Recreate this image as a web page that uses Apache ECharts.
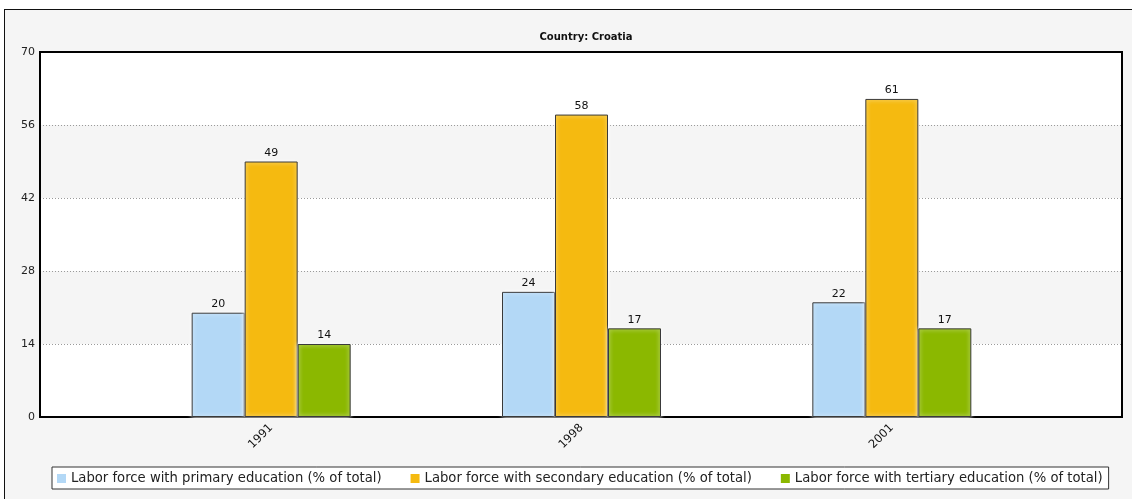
<!DOCTYPE html>
<html>
<head>
<meta charset="utf-8">
<script src="https://cdn.jsdelivr.net/npm/echarts@6/dist/echarts.min.js"></script>
<style>
  html, body { margin: 0; padding: 0; background: #fff; overflow: hidden; }
  #frame { position: absolute; left: 4px; top: 9px; width: 1140px; height: 500px;
           border-left: 1px solid #111; border-top: 1px solid #111; background: #f5f5f5; }
  #chart { position: absolute; left: 0; top: 0; width: 1132px; height: 499px; }
</style>
</head>
<body>
<div id="frame"></div>
<div id="chart"></div>
<script>
// Labor force by education level, Croatia
const years = ['1991', '1998', '2001'];
const primaryEdu = [20, 24, 22];
const secondaryEdu = [49, 58, 61];
const tertiaryEdu = [14, 17, 17];
const seriesNames = [
  'Labor force with primary education (% of total)',
  'Labor force with secondary education (% of total)',
  'Labor force with tertiary education (% of total)'
];
const yTicks = [0, 14, 28, 42, 56, 70];

const FONT = 'DejaVu Sans, Verdana, sans-serif';
const colors = ['#b3d8f6', '#f5ba10', '#8bb800'];

function barSeries(name, values, color) {
  return {
    name: name,
    type: 'bar',
    xAxisIndex: 1,
    yAxisIndex: 1,
    data: values,
    barWidth: 53,
    barGap: '0%',
    itemStyle: {
      color: color,
      borderColor: '#3a3a3a',
      borderWidth: 1,
      shadowColor: 'rgba(255,255,255,0.95)',
      shadowBlur: 4
    },
    label: {
      show: true,
      position: 'top',
      distance: 3,
      color: '#111',
      fontFamily: FONT,
      fontSize: 11
    }
  };
}

const yMin = yTicks[0];
const yMax = yTicks[yTicks.length - 1];

const chart = echarts.init(document.getElementById('chart'));
chart.setOption({
  animation: false,
  color: colors,
  title: {
    text: 'Country: Croatia',
    left: 581,
    top: 27,
    textAlign: 'center',
    textStyle: { fontFamily: FONT, fontSize: 10, fontWeight: 'bold', color: '#111' }
  },
  legend: {
    left: 52,
    top: 467,
    icon: 'rect',
    itemWidth: 9,
    itemHeight: 9,
    itemGap: 29,
    padding: [5, 6, 4, 5],
    backgroundColor: '#fff',
    borderColor: '#333',
    borderWidth: 1,
    itemStyle: { borderWidth: 0 },
    textStyle: { fontFamily: FONT, fontSize: 13.2, color: '#222' },
    data: seriesNames
  },
  grid: [
    { // plot background
      left: 40, top: 52, right: 10, bottom: 82,
      show: true, backgroundColor: '#fff', borderWidth: 0
    },
    { // bar area
      left: 116, top: 52, width: 931, bottom: 82
    },
    { // plot border drawn above the bands
      left: 40, top: 52, right: 10, bottom: 82, z: 1,
      show: true, backgroundColor: 'transparent', borderColor: '#000', borderWidth: 2
    }
  ],
  xAxis: [
    { gridIndex: 0, type: 'value', show: false, min: 0, max: 1 },
    {
      gridIndex: 1,
      type: 'category',
      data: years,
      axisLine: { show: false },
      axisTick: { show: false },
      axisLabel: {
        rotate: 45,
        margin: 9,
        color: '#111',
        fontFamily: FONT,
        fontSize: 11.5
      }
    },
    { gridIndex: 2, type: 'value', show: false, min: 0, max: 1 }
  ],
  yAxis: [
    {
      gridIndex: 0,
      type: 'value',
      min: yMin,
      max: yMax,
      interval: yTicks[1] - yTicks[0],
      axisLine: { show: false },
      axisTick: { show: false },
      axisLabel: { margin: 5, color: '#222', fontFamily: FONT, fontSize: 11 },
      splitLine: { show: true, lineStyle: { color: '#9a9a9a', type: [1, 2], width: 1 } },
      splitArea: { show: true, areaStyle: { color: ['#ffffff', '#f5f5f5'] } }
    },
    {
      gridIndex: 1,
      type: 'value',
      min: yMin,
      max: yMax,
      show: false,
      splitLine: { show: false }
    },
    {
      gridIndex: 2,
      type: 'value',
      min: yMin,
      max: yMax,
      show: false,
      splitLine: { show: false }
    }
  ],
  series: [
    barSeries(seriesNames[0], primaryEdu, colors[0]),
    barSeries(seriesNames[1], secondaryEdu, colors[1]),
    barSeries(seriesNames[2], tertiaryEdu, colors[2])
  ]
});
</script>
</body>
</html>
